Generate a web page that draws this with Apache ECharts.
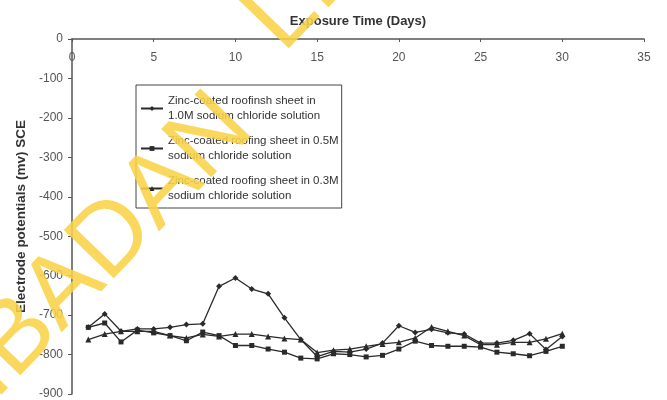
<!DOCTYPE html>
<html>
<head>
<meta charset="utf-8">
<script src="https://cdn.jsdelivr.net/npm/echarts@6/dist/echarts.min.js"></script>
<style>
html,body{margin:0;padding:0;background:#fff;}
#c{width:667px;height:400px;}
</style>
</head>
<body>
<div id="c"></div>
<script>
const days = [1,2,3,4,5,6,7,8,9,10,11,12,13,14,15,16,17,18,19,20,21,22,23,24,25,26,27,28,29,30];
const s10M = [-731,-697,-741,-735,-735,-731,-724,-722,-627,-606,-634,-646,-707,-762,-805,-792,-794,-786,-771,-727,-744,-736,-745,-748,-771,-771,-764,-747,-787,-754];
const s05M = [-731,-720,-768,-738,-745,-752,-765,-743,-752,-777,-777,-786,-794,-809,-811,-798,-800,-806,-802,-786,-766,-777,-779,-779,-781,-794,-798,-803,-792,-779];
const s03M = [-762,-748,-741,-741,-741,-752,-758,-749,-754,-748,-748,-754,-759,-762,-795,-789,-786,-779,-773,-769,-758,-730,-741,-752,-775,-775,-769,-769,-760,-747];
const seriesNames = [
  'Zinc-coated roofinsh sheet in\n1.0M sodium chloride solution',
  'Zinc-coated roofing sheet in 0.5M\nsodium chloride solution',
  'Zinc-coated roofing sheet in 0.3M\nsodium chloride solution'
];
const xTitle = 'Exposure Time (Days)';
const yTitle = 'Electrode potentials (mv) SCE';
const watermarkWords = ['IBADAN', 'LIBRARY'];

const font = 'Liberation Sans, Arial, sans-serif';
function pts(vals){ return days.map((d,i)=>[d, vals[i]]); }
const symbols = ['diamond','rect','triangle'];
const sizes = [6,5,6];
const allVals = [s10M, s05M, s03M];

const wmRot = 46*Math.PI/180;
const wmStyle = (t)=>({text:t, x:0, y:0, font:'normal 101px Liberation Sans, Arial, sans-serif',
      fill:'#f8d347', opacity:0.88, align:'left', verticalAlign:'middle'});

const chart = echarts.init(document.getElementById('c'), null, {renderer:'canvas'});
chart.setOption({
  backgroundColor:'#fff',
  animation:false,
  grid:{left:72,right:23,top:39,bottom:6},
  xAxis:{
    type:'value', position:'top', min:0, max:35, interval:5,
    name:xTitle, nameLocation:'middle', nameGap:11,
    nameTextStyle:{fontFamily:font,fontSize:13,fontWeight:'bold',color:'#333'},
    axisLine:{show:true,lineStyle:{color:'#555',width:1.5}},
    axisTick:{show:true,inside:true,length:3,lineStyle:{color:'#555'}},
    axisLabel:{inside:true,margin:13,fontFamily:font,fontSize:12,color:'#555'},
    splitLine:{show:false}
  },
  yAxis:{
    type:'value', min:-900, max:0, interval:100,
    name:yTitle, nameLocation:'middle', nameGap:44,
    nameTextStyle:{fontFamily:font,fontSize:13.5,fontWeight:'bold',color:'#333'},
    axisLine:{show:true,lineStyle:{color:'#555',width:1.5}},
    axisTick:{show:true,inside:false,length:4,lineStyle:{color:'#555'}},
    axisLabel:{margin:9,fontFamily:font,fontSize:12,color:'#555'},
    splitLine:{show:false}
  },
  legend:{
    orient:'vertical', left:136, top:85,
    padding:[9,3,5,4], itemGap:11, itemWidth:22, itemHeight:6,
    borderColor:'#444', borderWidth:1, backgroundColor:'#fff',
    textStyle:{fontFamily:font,fontSize:11.5,color:'#333',lineHeight:14.5},
    data:seriesNames
  },
  series: seriesNames.map((n,i)=>({
    name:n, type:'line', data:pts(allVals[i]),
    symbol:symbols[i], symbolSize:sizes[i], showSymbol:true,
    lineStyle:{color:'#2a2a2a',width:1.3},
    itemStyle:{color:'#2a2a2a'}
  })),
  graphic:[
    {type:'text', x:-25, y:382, rotation:wmRot, z:100, silent:true, style:wmStyle(watermarkWords[0])},
    {type:'text', x:263, y:35, rotation:wmRot, z:100, silent:true, style:wmStyle(watermarkWords[1])}
  ]
});
</script>
</body>
</html>
